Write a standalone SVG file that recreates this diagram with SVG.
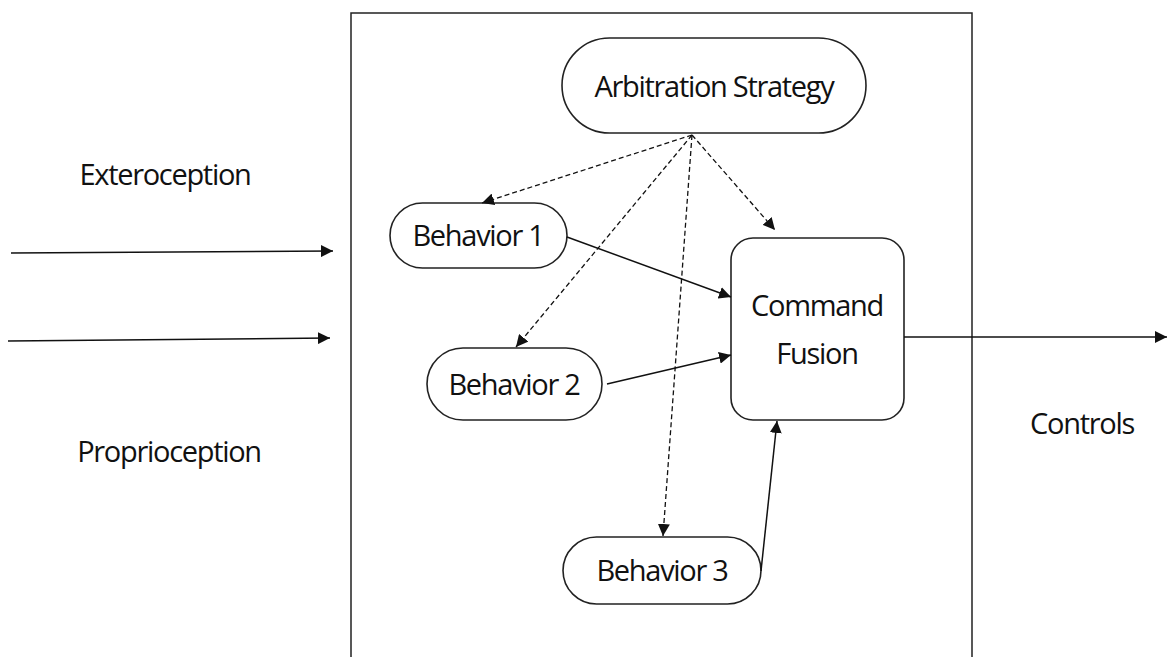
<svg xmlns="http://www.w3.org/2000/svg" width="1167" height="657" viewBox="0 0 1167 657">
  <style>
    .shape { fill: #ffffff; stroke: #222; stroke-width: 1.6; }
    .lbl { font-family: "Open Sans", "Noto Sans", sans-serif; font-size: 29px; fill: #111; text-anchor: middle; letter-spacing: -1.3px; }
    .solid { fill: none; stroke: #111; stroke-width: 1.5; }
    .dash { fill: none; stroke: #111; stroke-width: 1.3; stroke-dasharray: 5 3; }
  </style>
  <defs>
    <marker id="arrow" viewBox="0 0 10 10" refX="10" refY="5" markerWidth="12" markerHeight="12" markerUnits="userSpaceOnUse" orient="auto">
      <path d="M0,0 L10,5 L0,10 z" fill="#111"/>
    </marker>
  </defs>
  <rect width="1167" height="657" fill="#ffffff"/>

  <!-- controller boundary, open at the bottom edge -->
  <path id="boundary" d="M351,670 L351,13 L972,13 L972,670" fill="none" stroke="#222" stroke-width="1.5"/>

  <g id="arbitration">
    <rect class="shape" x="562" y="38" width="304" height="95" rx="47.5"/>
    <text class="lbl" x="714" y="97">Arbitration Strategy</text>
  </g>
  <g id="behavior1">
    <rect class="shape" x="390" y="203" width="177" height="65" rx="32.5"/>
    <text class="lbl" x="478" y="246">Behavior 1</text>
  </g>
  <g id="behavior2">
    <rect class="shape" x="427" y="348" width="175" height="72" rx="36"/>
    <text class="lbl" x="514" y="395">Behavior 2</text>
  </g>
  <g id="behavior3">
    <rect class="shape" x="563" y="537" width="198" height="67" rx="33.5"/>
    <text class="lbl" x="662" y="581">Behavior 3</text>
  </g>
  <g id="fusion">
    <rect class="shape" x="731" y="238" width="173" height="182" rx="22"/>
    <text class="lbl" x="817" y="316">Command</text>
    <text class="lbl" x="817" y="364">Fusion</text>
  </g>

  <g id="labels">
    <text class="lbl" x="165" y="185">Exteroception</text>
    <text class="lbl" x="169" y="462">Proprioception</text>
    <text class="lbl" x="1082" y="434">Controls</text>
  </g>

  <g id="connectors">
    <!-- arbitration signals -->
    <line class="dash" x1="692" y1="135" x2="482" y2="203" marker-end="url(#arrow)"/>
    <line class="dash" x1="692" y1="135" x2="516" y2="347" marker-end="url(#arrow)"/>
    <line class="dash" x1="692" y1="135" x2="663" y2="536" marker-end="url(#arrow)"/>
    <line class="dash" x1="692" y1="135" x2="775" y2="230" marker-end="url(#arrow)"/>
    <!-- behavior outputs -->
    <line class="solid" x1="567" y1="237" x2="731" y2="297" marker-end="url(#arrow)"/>
    <line class="solid" x1="607" y1="384" x2="731" y2="355" marker-end="url(#arrow)"/>
    <line class="solid" x1="761" y1="571" x2="777" y2="421" marker-end="url(#arrow)"/>
    <!-- sensor inputs -->
    <line class="solid" x1="11" y1="253" x2="333" y2="251" marker-end="url(#arrow)"/>
    <line class="solid" x1="8" y1="341" x2="330" y2="338" marker-end="url(#arrow)"/>
    <!-- control output -->
    <line class="solid" x1="904" y1="337" x2="1167" y2="337" marker-end="url(#arrow)"/>
  </g>
</svg>
